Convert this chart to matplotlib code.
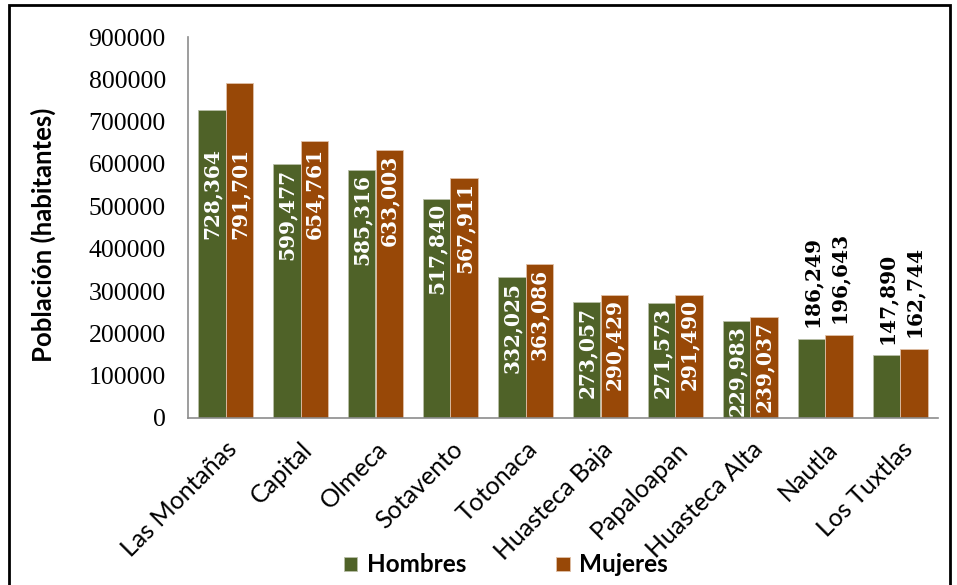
import numpy as np
import matplotlib.pyplot as plt
from matplotlib.patches import Rectangle

regiones = ['Las Montañas', 'Capital', 'Olmeca', 'Sotavento', 'Totonaca',
            'Huasteca Baja', 'Papaloapan', 'Huasteca Alta', 'Nautla', 'Los Tuxtlas']
hombres = [728364, 599477, 585316, 517840, 332025, 273057, 271573, 229983, 186249, 147890]
mujeres = [791701, 654761, 633003, 567911, 363086, 290429, 291490, 239037, 196643, 162744]
yticks = [0, 100000, 200000, 300000, 400000, 500000, 600000, 700000, 800000, 900000]

verde = '#4f6228'
cafe = '#984807'

fig = plt.figure(figsize=(9.57, 5.85), dpi=100)
ax = fig.add_axes([188/957, 1 - 418/585, 750/957, (418 - 37)/585])

x = np.arange(len(regiones))
w = 0.367
b1 = ax.bar(x - w/2, hombres, w, color=verde, edgecolor='#b8bfa8', linewidth=0.6, label='Hombres')
b2 = ax.bar(x + w/2, mujeres, w, color=cafe, edgecolor='#e0c0a8', linewidth=0.6, label='Mujeres')

ax.set_xlim(-0.5, 9.5)
ax.set_ylim(0, 900000)
ax.set_yticks(yticks)
ax.set_yticklabels([str(v) for v in yticks], family='Liberation Serif', fontsize=18.5)
ax.tick_params(axis='y', length=0, pad=16)
ax.set_xticks(x)
ax.set_xticklabels(regiones, rotation=45, ha='right', va='top', rotation_mode='anchor',
                   family='Lato', fontsize=18)
ax.tick_params(axis='x', length=0, pad=14)

for s in ['top', 'right']:
    ax.spines[s].set_visible(False)
for s in ['left', 'bottom']:
    ax.spines[s].set_color('#8c8c8c')
    ax.spines[s].set_linewidth(1.2)

ax.set_ylabel('Población (habitantes)', family='Lato', fontweight='bold', fontsize=18.5)
ax.yaxis.set_label_coords(-0.176, 0.48)

# etiquetas de datos
for xs, vals in [(x - w/2, hombres), (x + w/2, mujeres)]:
    for xi, v in zip(xs, vals):
        txt = f'{v:,}'
        if v > 220000:
            ax.text(xi, min(v - 10000, 638000), txt, rotation=90, ha='center', va='top',
                    color='white', family='DejaVu Serif', fontweight='bold', fontsize=14.5)
        else:
            ax.text(xi, v + 28000, txt, rotation=90, ha='center', va='bottom',
                    color='black', family='DejaVu Serif', fontweight='bold', fontsize=14.5)

leg = fig.legend(handles=[b1, b2], loc='center', bbox_to_anchor=(506/957, 1 - 565/585),
                 ncol=2, frameon=False, columnspacing=3.7, handlelength=0.55, handleheight=0.55,
                 handletextpad=0.4, prop={'family': 'Lato', 'weight': 'bold', 'size': 17.5})

fig.patches.append(Rectangle((9/957, -0.02), 941/957, 1 - 5/585 + 0.02, transform=fig.transFigure,
                             fill=False, edgecolor='black', linewidth=2))

fig.savefig('out.png', dpi=100)
